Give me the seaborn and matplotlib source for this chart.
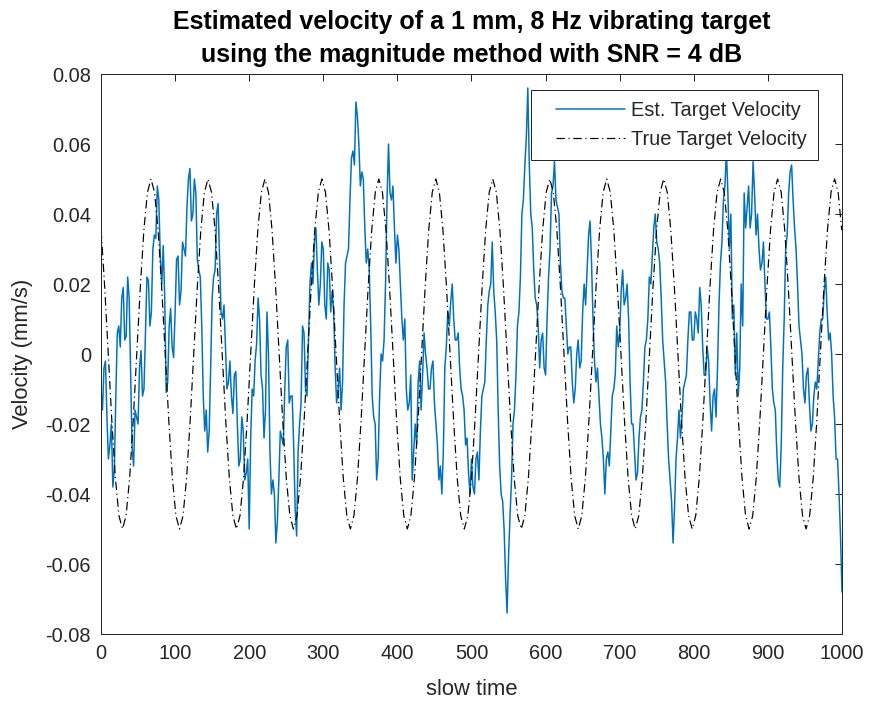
import numpy as np
import pandas as pd
import matplotlib
matplotlib.use("Agg")
import matplotlib.pyplot as plt
import seaborn as sns
from matplotlib.ticker import FuncFormatter

# estimated velocity (mm/s), read off at slow time 0, 4, 8, ... 1000
est_vel_a = [
    -0.010, -0.004, -0.018, -0.026, -0.038, -0.012, 0.008, 0.016, 0.004, 0.022, -0.006, -0.032, -0.018,
    -0.004, -0.012, 0.006, 0.021, 0.012, 0.034, 0.048, 0.028, 0.031, -0.011, 0.008, 0.002,
    0.012, 0.028, 0.018, 0.030, 0.042, 0.053, 0.040, 0.046, 0.024, 0.008, -0.022, -0.028, -0.004,
    0.022, 0.040, 0.028, 0.010, 0.002, -0.008, -0.012, -0.006, -0.020, -0.030, -0.022, -0.034,
    -0.050, -0.010, -0.002, 0.016, -0.006, -0.024, 0.012, -0.028, -0.036, -0.054, -0.036, -0.024, -0.010,
    0.004, -0.012, -0.026, -0.052, -0.020, 0.008, -0.010, 0.004, 0.026, 0.032, 0.024, 0.020,
    0.030, 0.010, 0.024, 0.018, -0.004, -0.010, -0.016, 0.014, 0.028, 0.044, 0.058, 0.072, 0.060,
    0.052, 0.036, 0.030, 0.008, -0.018, -0.036, -0.012, -0.002, 0.020, 0.060, 0.044, 0.036,
    0.034, 0.020, 0.004, -0.010, -0.014, -0.036, -0.020, -0.008, -0.016, 0.006, -0.004, -0.010, -0.002,
    -0.020, -0.036, -0.040, -0.004, 0.012, 0.015, 0.010, 0.004, -0.004, -0.012, -0.026, -0.034,
    -0.030, -0.040, -0.028, -0.022, -0.010, 0.004, 0.018, 0.032, 0.012, -0.016, -0.040, -0.050, -0.074,
    -0.046, -0.020, -0.006, 0.012, 0.040, 0.054, 0.076, 0.040, 0.024, 0.014, -0.004, 0.006,
    -0.006, 0.022, 0.046, 0.055, 0.042, 0.026, 0.016, 0.008, 0.002, -0.008, -0.010, 0.004, -0.002,
    0.020, 0.024, 0.038, 0.010, -0.008, -0.012, -0.024, -0.040, -0.028, -0.022, -0.010, 0.008,
    0.006, 0.024, 0.016, 0.010, -0.020, -0.028, -0.034, -0.018, -0.008, 0.004, 0.022, 0.028, 0.040,
    0.030, 0.016, -0.002, -0.020, -0.036, -0.054, -0.030, -0.016, -0.018, -0.008, 0.004, 0.012,
    0.004, 0.010, 0.019, 0.002, -0.006, -0.002, -0.022, -0.010, -0.004, 0.026, 0.044, 0.058, 0.030,
    0.010, -0.006, -0.012, 0.020, 0.046, 0.042, 0.036, 0.055, 0.034, 0.030, 0.026, 0.020,
    0.010, 0.002, -0.014, -0.028, -0.038, -0.004, 0.030, 0.046, 0.054, 0.036, 0.020, 0.004, -0.010,
    -0.006, -0.014, -0.020, -0.008, -0.002, 0.010, 0.018, 0.012, 0.006, -0.012, -0.030, -0.040,
    -0.068,
]
# estimated velocity (mm/s), read off at slow time 2, 6, 10, ... 998
est_vel_b = [
    -0.016, -0.002, -0.030, -0.020, -0.033, 0.006, 0.002, 0.019, 0.005, 0.016, -0.027, -0.016, -0.020,
    0.001, -0.010, 0.022, 0.008, 0.030, 0.033, 0.044, 0.020, 0.016, -0.008, 0.013, -0.001,
    0.027, 0.014, 0.032, 0.028, 0.050, 0.038, 0.050, 0.027, 0.022, -0.012, -0.016, -0.022, 0.016,
    0.024, 0.043, 0.012, 0.014, -0.010, -0.002, -0.017, -0.005, -0.032, -0.018, -0.036, -0.030,
    -0.024, -0.012, 0.003, 0.010, -0.010, -0.016, 0.000, -0.040, -0.040, -0.048, -0.022, -0.026, 0.002,
    -0.014, -0.012, -0.044, -0.028, -0.014, 0.006, -0.012, 0.020, 0.020, 0.036, 0.014, 0.032,
    0.014, 0.026, 0.012, 0.012, -0.014, -0.004, -0.008, 0.026, 0.030, 0.056, 0.054, 0.068, 0.048,
    0.050, 0.026, 0.024, -0.012, -0.020, -0.030, 0.000, 0.004, 0.044, 0.046, 0.048, 0.026,
    0.030, 0.010, 0.010, -0.016, -0.006, -0.028, -0.026, -0.002, -0.006, 0.000, -0.010, -0.004, -0.014,
    -0.026, -0.032, -0.028, 0.002, 0.008, 0.020, 0.004, 0.006, -0.010, -0.016, -0.024, -0.040,
    -0.038, -0.030, -0.036, -0.012, -0.008, 0.014, 0.020, 0.018, 0.004, -0.032, -0.042, -0.064, -0.058,
    -0.036, -0.016, 0.008, 0.022, 0.044, 0.062, 0.054, 0.036, 0.016, 0.008, 0.004, -0.004,
    0.010, 0.030, 0.048, 0.044, 0.040, 0.018, 0.016, 0.000, 0.002, -0.014, 0.000, -0.004, 0.012,
    0.014, 0.034, 0.026, -0.002, -0.004, -0.020, -0.030, -0.030, -0.032, -0.012, -0.006, 0.002,
    0.018, 0.014, 0.020, -0.008, -0.020, -0.036, -0.024, -0.016, 0.002, 0.010, 0.020, 0.036, 0.032,
    0.026, 0.004, -0.008, -0.030, -0.042, -0.044, -0.024, -0.024, -0.010, -0.006, 0.012, 0.004,
    0.012, 0.006, 0.014, -0.006, 0.002, -0.014, -0.012, -0.018, 0.014, 0.032, 0.048, 0.046, 0.040,
    0.014, 0.006, -0.004, 0.008, 0.036, 0.048, 0.040, 0.046, 0.040, 0.024, 0.032, 0.010,
    0.012, -0.010, -0.016, -0.036, -0.026, 0.010, 0.034, 0.052, 0.044, 0.030, 0.008, 0.000, -0.014,
    -0.004, -0.022, -0.012, -0.010, 0.006, 0.010, 0.022, 0.004, 0.000, -0.018, -0.030, -0.052,
]

# true velocity (mm/s), read at 16 points per vibration period
true_vel = [
    0.0354, 0.0191, 0.0, -0.0191, -0.0354, -0.0462, -0.05, -0.0462, -0.0354, -0.0191, 0.0, 0.0191, 0.0354, 0.0462,
    0.05, 0.0462, 0.0354, 0.0191, 0.0, -0.0191, -0.0354, -0.0462, -0.05, -0.0462, -0.0354, -0.0191, 0.0, 0.0191, 0.0354, 0.0462,
    0.05, 0.0462, 0.0354, 0.0191, 0.0, -0.0191, -0.0354, -0.0462, -0.05, -0.0462, -0.0354, -0.0191, 0.0, 0.0191, 0.0354, 0.0462,
    0.05, 0.0462, 0.0354, 0.0191, 0.0, -0.0191, -0.0354, -0.0462, -0.05, -0.0462, -0.0354, -0.0191, 0.0, 0.0191, 0.0354, 0.0462,
    0.05, 0.0462, 0.0354, 0.0191, 0.0, -0.0191, -0.0354, -0.0462, -0.05, -0.0462, -0.0354, -0.0191, 0.0, 0.0191, 0.0354, 0.0462,
    0.05, 0.0462, 0.0354, 0.0191, 0.0, -0.0191, -0.0354, -0.0462, -0.05, -0.0462, -0.0354, -0.0191, 0.0, 0.0191, 0.0354, 0.0462,
    0.05, 0.0462, 0.0354, 0.0191, 0.0, -0.0191, -0.0354, -0.0462, -0.05, -0.0462, -0.0354, -0.0191, 0.0, 0.0191, 0.0354, 0.0462,
    0.05, 0.0462, 0.0354, 0.0191, 0.0, -0.0191, -0.0354, -0.0462, -0.05, -0.0462, -0.0354, -0.0191, 0.0, 0.0191, 0.0354, 0.0462,
    0.05, 0.0462, 0.0354, 0.0191, 0.0, -0.0191, -0.0354, -0.0462, -0.05, -0.0462, -0.0354, -0.0191, 0.0, 0.0191, 0.0354, 0.0462,
    0.05, 0.0462, 0.0354, 0.0191, 0.0, -0.0191, -0.0354, -0.0462, -0.05, -0.0462, -0.0354, -0.0191, 0.0, 0.0191, 0.0354, 0.0462,
    0.05, 0.0462, 0.0354, 0.0191, 0.0, -0.0191, -0.0354, -0.0462, -0.05, -0.0462, -0.0354, -0.0191, 0.0, 0.0191, 0.0354, 0.0462,
    0.05, 0.0462, 0.0354, 0.0191, 0.0, -0.0191, -0.0354, -0.0462, -0.05, -0.0462, -0.0354, -0.0191, 0.0, 0.0191, 0.0354, 0.0462,
    0.05, 0.0462, 0.0354, 0.0191, 0.0, -0.0191, -0.0354, -0.0462, -0.05, -0.0462, -0.0354, -0.0191, 0.0, 0.0191, 0.0354, 0.0462,
    0.05, 0.0462, 0.0354,
]

est_t_a = np.arange(0, 1001, 4)
est_t_b = np.arange(2, 1000, 4)
true_t = np.linspace(0.2, 999.6, len(true_vel))

x_ticks = [0, 100, 200, 300, 400, 500, 600, 700, 800, 900, 1000]
y_ticks = [-0.08, -0.06, -0.04, -0.02, 0, 0.02, 0.04, 0.06, 0.08]

est_df = pd.concat([pd.DataFrame({"t": est_t_a, "v": est_vel_a}),
                    pd.DataFrame({"t": est_t_b, "v": est_vel_b})]).sort_values("t")
true_df = pd.DataFrame({"t": true_t, "v": true_vel})

sns.set_style("white")
plt.rcParams['font.family'] = ['Liberation Sans', 'DejaVu Sans']
plt.rcParams['axes.unicode_minus'] = False

ink = '#262626'
fig = plt.figure(figsize=(869 / 144, 706 / 144), dpi=144)
ax = fig.add_axes([101 / 869, 72 / 706, 741 / 869, 560 / 706])

sns.lineplot(data=est_df, x="t", y="v", ax=ax, color='#0072BD', linewidth=0.75,
             label='Est. Target Velocity')
sns.lineplot(data=true_df, x="t", y="v", ax=ax, color='black', linewidth=0.6,
             linestyle=(0, (7, 3, 1, 3)), label='True Target Velocity')

ax.set_xlim(0, 1000)
ax.set_ylim(-0.08, 0.08)
ax.set_xticks(x_ticks)
ax.set_yticks(y_ticks)
ax.yaxis.set_major_formatter(FuncFormatter(lambda v, p: '{:g}'.format(round(v, 3))))
ax.tick_params(direction='in', length=3.5, width=0.5, colors=ink, labelsize=10,
               top=True, right=True, pad=5)
for s in ax.spines.values():
    s.set_visible(True)
    s.set_color(ink)
    s.set_linewidth(0.5)

ax.set_xlabel('slow time', fontsize=11, color=ink, labelpad=8)
ax.set_ylabel('Velocity (mm/s)', fontsize=11, color=ink, labelpad=6)
ax.set_title('Estimated velocity of a 1 mm, 8 Hz vibrating target\n'
             'using the magnitude method with SNR = 4 dB',
             fontsize=12.5, fontweight='bold', color='black', pad=6, linespacing=1.5)

leg = ax.legend(loc='upper right', bbox_to_anchor=(0.9676, 0.971), borderaxespad=0,
                fontsize=10, frameon=True, fancybox=False, framealpha=1,
                handlelength=4.15, handletextpad=0.3, labelspacing=0.5, borderpad=0.55)
leg.get_frame().set_edgecolor(ink)
leg.get_frame().set_linewidth(0.5)
# MATLAB legends leave a gap to the left of the sample line
for ln in leg.get_lines():
    xd = np.asarray(ln.get_xdata(), dtype=float)
    ln.set_xdata(np.linspace(xd[0] + (xd[-1] - xd[0]) * 0.17, xd[-1], len(xd)))

fig.savefig('out.png', dpi=144)
